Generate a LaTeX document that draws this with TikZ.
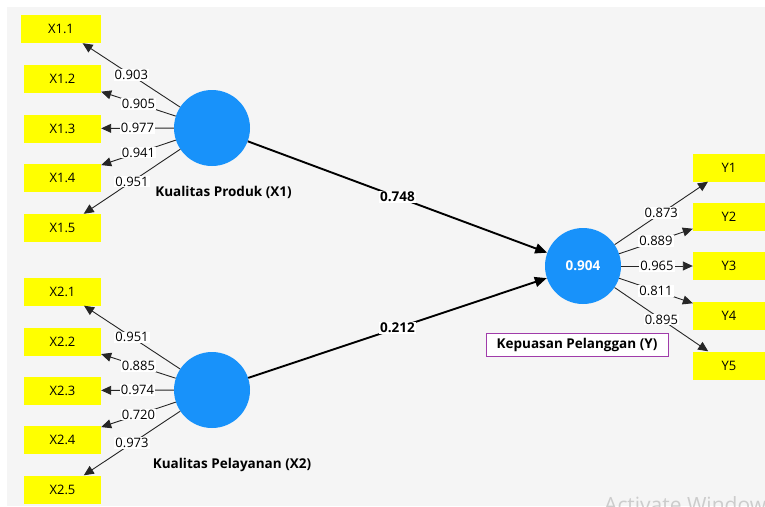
\documentclass[tikz,border=0pt]{standalone}
\usepackage{fontspec}
\setmainfont{Open Sans}
\usetikzlibrary{arrows.meta}
\definecolor{latblue}{RGB}{24,146,250}
\definecolor{bggray}{RGB}{245,245,245}
\definecolor{ybox}{RGB}{255,255,0}
\definecolor{lblborder}{RGB}{160,60,170}
\tikzset{
  ind/.style={fill=ybox, minimum width=77pt, minimum height=28pt, inner sep=0pt, font=\fontsize{13}{15}\selectfont},
  lat/.style={circle, fill=latblue, minimum size=76pt, inner sep=0pt},
  load/.style={-{Triangle[length=10pt,width=9pt]}, line width=0.9pt, black!85},
  struct/.style={-{Triangle[length=12pt,width=10pt]}, line width=1.9pt, black},
  val/.style={fill=white, inner sep=1pt, text=black, font=\fontsize{13}{15}\selectfont},
  sval/.style={fill=white, inner sep=1pt, text=black, font=\bfseries\fontsize{13.5}{15}\selectfont},
  lvname/.style={font=\bfseries\fontsize{13.5}{15}\selectfont, inner sep=1pt},
}
\begin{document}
\begin{tikzpicture}[x=1pt,y=-1pt]
\useasboundingbox (0,0) rectangle (765,506);
\fill[white] (0,0) rectangle (765,506);
\fill[bggray] (7,7) rectangle (765,506);

% latent variables
\node[lat] (X1) at (212,128) {};
\node[lat] (X2) at (212,390) {};
\node[lat, text=white, font=\bfseries\fontsize{13.5}{15}\selectfont] (Y) at (583,266) {0.904};

% latent names
\node[lvname] (lx1) at (223.5,192) {Kualitas Produk (X1)};
\node[lvname] (lx2) at (232,465) {Kualitas Pelayanan (X2)};
\node[draw=lblborder, line width=0.8pt, fill=white, minimum width=182pt, minimum height=23pt, inner sep=0pt, font=\bfseries\fontsize{13.5}{15}\selectfont] (ly) at (577,344.5) {Kepuasan Pelanggan (Y)};

% indicators X1
\node[ind, minimum width=80pt] (x11) at (61,29) {X1.1};
\node[ind] (x12) at (62.5,79) {X1.2};
\node[ind] (x13) at (62.5,128.5) {X1.3};
\node[ind] (x14) at (62.5,178) {X1.4};
\node[ind] (x15) at (62.5,228) {X1.5};
% indicators X2
\node[ind] (x21) at (62.5,291.5) {X2.1};
\node[ind] (x22) at (62.5,341.5) {X2.2};
\node[ind] (x23) at (62.5,390.5) {X2.3};
\node[ind] (x24) at (62.5,440) {X2.4};
\node[ind] (x25) at (62.5,489.5) {X2.5};
% indicators Y
\node[ind, minimum width=72pt] (y1) at (729,167.5) {Y1};
\node[ind, minimum width=72pt] (y2) at (729,216.5) {Y2};
\node[ind, minimum width=72pt] (y3) at (729,266) {Y3};
\node[ind, minimum width=72pt] (y4) at (729,315.5) {Y4};
\node[ind, minimum width=72pt] (y5) at (729,365.5) {Y5};

% outer loadings
\draw[load] (X1) -- node[val] {0.903} (x11);
\draw[load] (X1) -- node[val] {0.905} (x12);
\draw[load] (X1) -- node[val] {0.977} (x13);
\draw[load] (X1) -- node[val] {0.941} (x14);
\draw[load] (X1) -- node[val] {0.951} (x15);

\draw[load] (X2) -- node[val] {0.951} (x21);
\draw[load] (X2) -- node[val] {0.885} (x22);
\draw[load] (X2) -- node[val] {0.974} (x23);
\draw[load] (X2) -- node[val] {0.720} (x24);
\draw[load] (X2) -- node[val] {0.973} (x25);

\draw[load] (Y) -- node[val] {0.873} (y1);
\draw[load] (Y) -- node[val] {0.889} (y2);
\draw[load] (Y) -- node[val] {0.965} (y3);
\draw[load] (Y) -- node[val] {0.811} (y4);
\draw[load] (Y) -- node[val] {0.895} (y5);

% path coefficients
\draw[struct] (X1) -- node[sval] {0.748} (Y);
\draw[struct] (X2) -- node[sval] {0.212} (Y);

% watermark
\begin{scope}
\clip (0,0) rectangle (765,506);
\node[anchor=base west, inner sep=0pt, text=black!20, font=\fontsize{21}{24}\selectfont] (wm) at (604,512) {Activate Windows};
\end{scope}
\end{tikzpicture}
\end{document}
